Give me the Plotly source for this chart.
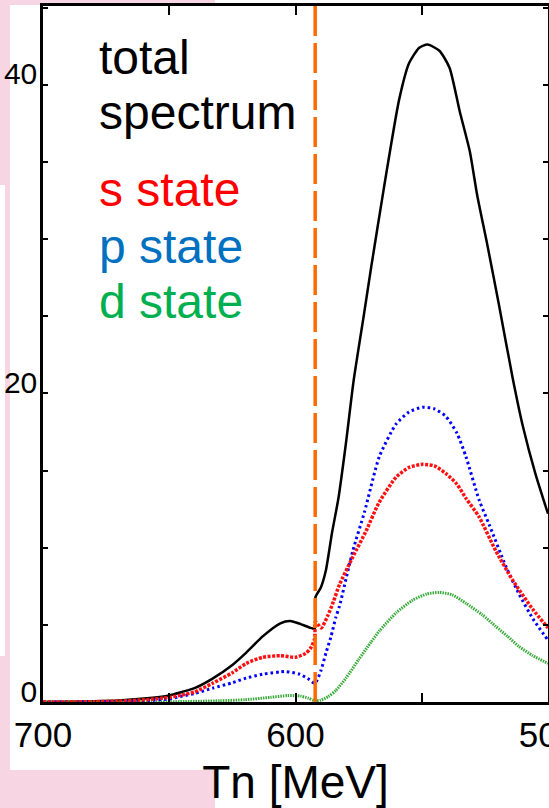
import plotly.graph_objects as go

# ---------------- data ----------------
tn_total = [700, 690, 680, 670, 660, 650, 645, 640, 633, 625, 619.5, 613, 606, 602, 598, 594,
            592.4, 592.1, 590, 588, 585.5, 583, 580, 577, 573, 570, 565, 559, 555, 551, 547.7,
            543, 539, 535, 531, 528, 524, 519.5, 514, 510, 505, 500]
total = [0, 0.02, 0.05, 0.1, 0.22, 0.42, 0.65, 0.9, 1.5, 2.4, 3.2, 4.25, 5.1, 5.25, 5.05, 4.8,
         4.75, 6.8, 7.4, 8.5, 11.0, 13.2, 16.8, 20.8, 25.0, 28.2, 33.3, 39.0, 41.4, 42.4, 42.6,
         42.2, 41.1, 38.3, 35.7, 32.8, 29.6, 25.8, 21.0, 17.9, 14.8, 12.2]

tn_s = [700, 680, 670, 660, 650, 645, 640, 633, 625, 619.5, 613, 606, 600, 596, 594, 592.4,
        592.1, 591, 589.8, 587.2, 585, 582.6, 577.3, 572, 567, 560, 555, 549.7, 545, 540.4,
        536, 532.5, 527.3, 520.7, 514, 506, 500]
s_state = [0, 0.02, 0.06, 0.14, 0.3, 0.45, 0.65, 1.2, 1.9, 2.5, 2.9, 3.0, 2.9, 3.15, 3.5, 4.1,
           5.2, 5.0, 4.8, 5.6, 6.5, 7.6, 9.4, 11.1, 12.9, 14.6, 15.2, 15.4, 15.3, 14.8,
           14.1, 13.2, 12.0, 9.8, 7.9, 6.0, 4.8]

tn_p = [700, 680, 670, 660, 650, 645.8, 640, 632.8, 625, 619.5, 613, 606, 603.7, 598.4, 594.5,
        592.3, 590, 587.9, 586, 584, 582.6, 577.3, 572.7, 566.8, 560.2, 555, 549.7, 545, 540.4,
        536, 532.5, 527.3, 523.3, 516.7, 511.5, 506, 500]
p_state = [0, 0.01, 0.03, 0.08, 0.2, 0.35, 0.55, 0.9, 1.25, 1.55, 1.8, 1.95, 1.97, 1.8, 1.45,
           1.2, 2.0, 3.2, 4.2, 5.5, 6.2, 9.8, 12.3, 15.9, 18.0, 18.8, 19.1, 19.0, 18.5,
           17.4, 15.9, 13.1, 11.5, 8.8, 7.0, 5.4, 4.0]

tn_d = [700, 650, 630, 620, 610, 603, 598, 595, 592.4, 590, 587, 584, 580, 575, 570, 566.8,
        560, 553.6, 548, 543, 538, 532.5, 526, 520.7, 516, 511.5, 506, 500]
d_state = [0, 0.02, 0.08, 0.15, 0.3, 0.42, 0.38, 0.25, 0.08, 0.12, 0.35, 0.75, 1.55, 2.75, 3.9,
           4.6, 5.8, 6.6, 7.0, 7.1, 6.95, 6.4, 5.65, 4.9, 4.25, 3.6, 3.0, 2.5]

threshold_tn = 592.2

x_tickvals = [700, 600, 500]
x_ticktext = ["700", "600", "500"]
x_minor = [650, 550]
y_tickvals = [0, 20, 40]
y_ticktext = ["0", "20", "40"]

labels = ["total", "spectrum", "s state", "p state", "d state"]
label_colors = ["#000000", "#000000", "#ff0000", "#0070c0", "#00b050"]

# ---------------- layout helpers ----------------
W, H = 549, 808
ML, MR, MT, MB = 43, 1, 6, 106
PW, PH = W - ML - MR, H - MT - MB


def px(xp):
    return (xp - ML) / PW


def py(yp):
    return (H - MB - yp) / PH


PINK = "#f7d5e2"
XTICKFONT = dict(family="Liberation Sans Narrow, Liberation Sans, Arial, sans-serif",
                 size=35, color="#000000")
YTICKFONT = dict(family="Liberation Sans Narrow, Liberation Sans, Arial, sans-serif",
                 size=30, color="#000000")
TEXTFONT = "Liberation Sans, Arial, sans-serif"

fig = go.Figure()

fig.add_trace(go.Scatter(x=tn_total, y=total, mode="lines", name="total",
                         line=dict(color="#000000", width=2.5, shape="spline", smoothing=0.6)))
fig.add_trace(go.Scatter(x=tn_d, y=d_state, mode="lines", name="d state",
                         line=dict(color="#3aaa3a", width=3, dash="1.5px,1px",
                                   shape="spline", smoothing=0.6)))
fig.add_trace(go.Scatter(x=tn_p, y=p_state, mode="lines", name="p state",
                         line=dict(color="#0000ff", width=3, dash="2.5px,3px",
                                   shape="spline", smoothing=0.6)))
fig.add_trace(go.Scatter(x=tn_s, y=s_state, mode="lines", name="s state",
                         line=dict(color="#ff1010", width=3.5, dash="3px,1.5px",
                                   shape="spline", smoothing=0.6)))

shapes = [
    # white slide regions behind the chart
    dict(type="rect", xref="paper", yref="paper", x0=px(10), x1=px(W), y0=py(770), y1=py(5),
         fillcolor="white", line=dict(width=0), layer="below"),
    dict(type="rect", xref="paper", yref="paper", x0=px(215), x1=px(W), y0=py(H), y1=py(0),
         fillcolor="white", line=dict(width=0), layer="below"),
    dict(type="rect", xref="paper", yref="paper", x0=px(0), x1=px(5), y0=py(656), y1=py(185),
         fillcolor="white", line=dict(width=0), layer="below"),
    # threshold line
    dict(type="line", xref="x", yref="paper", x0=threshold_tn, x1=threshold_tn, y0=0, y1=1,
         line=dict(color="#ff6a00", width=3.5, dash="30px,7px"), layer="above"),
]

label_baselines = [73, 128, 205, 262, 317]
annotations = []
FS = 48
for txt, col, bl in zip(labels, label_colors, label_baselines):
    annotations.append(dict(text=txt, xref="paper", yref="paper", x=px(97), y=py(bl - 0.32 * FS),
                            xanchor="left", yanchor="middle", showarrow=False,
                            font=dict(family=TEXTFONT, size=FS, color=col)))

fig.update_layout(
    width=W, height=H,
    margin=dict(l=ML, r=MR, t=MT, b=MB),
    paper_bgcolor=PINK, plot_bgcolor="white",
    showlegend=False,
    shapes=shapes, annotations=annotations,
    xaxis=dict(range=[700, 500], tickmode="array", tickvals=x_tickvals, ticktext=x_ticktext,
               ticks="inside", ticklen=9, tickwidth=2, tickcolor="#000000",
               minor=dict(tickmode="array", tickvals=x_minor, ticks="inside", ticklen=9,
                          tickwidth=2, tickcolor="#000000"),
               showline=True, linewidth=2.5, linecolor="#000000", mirror="ticks",
               showgrid=False, zeroline=False, tickfont=XTICKFONT, ticklabelstandoff=0,
               ticklabeloverflow="allow", automargin=False,
               title=dict(text="Tn [MeV]", font=dict(family=TEXTFONT, size=46, color="#000000"),
                          standoff=23)),
    yaxis=dict(range=[0, 45.1], tickmode="array", tickvals=y_tickvals, ticktext=y_ticktext,
               ticks="inside", ticklen=5, tickwidth=2, tickcolor="#000000",
               minor=dict(dtick=5, tick0=0, ticks="inside", ticklen=5, tickwidth=2,
                          tickcolor="#000000"),
               showline=True, linewidth=2.5, linecolor="#000000", mirror="ticks",
               showgrid=False, zeroline=False, tickfont=YTICKFONT, ticklabelshift=-11,
               ticklabelstandoff=-3, automargin=False),
)

fig.write_html("out.html")
